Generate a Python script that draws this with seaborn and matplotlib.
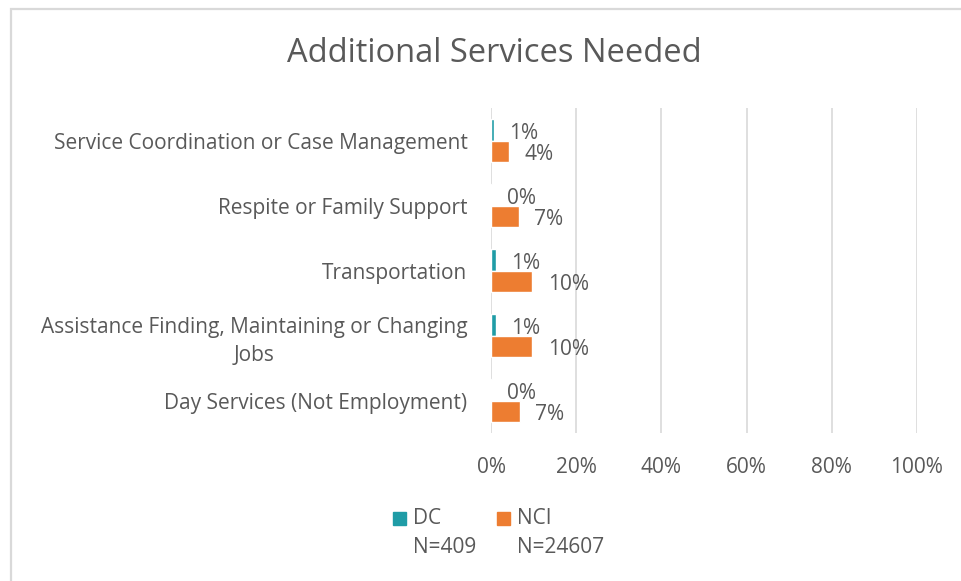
import matplotlib
matplotlib.use("Agg")
import matplotlib.pyplot as plt
from matplotlib.patches import Rectangle
from matplotlib.ticker import FuncFormatter
import pandas as pd
import seaborn as sns

# Survey data: share of respondents needing each additional service (%)
services = [
    "Service Coordination or Case Management",
    "Respite or Family Support",
    "Transportation",
    "Assistance Finding, Maintaining or Changing\nJobs",
    "Day Services (Not Employment)",
]
dc_values = [0.6, 0.2, 1.2, 1.2, 0.2]
nci_values = [4.2, 6.6, 9.7, 9.7, 6.7]
groups = ["DC", "NCI"]
group_sizes = ["N=409", "N=24607"]
x_ticks = [0, 20, 40, 60, 80, 100]

palette = {"DC": "#1F9CA6", "NCI": "#ED7D31"}
text_color = "#595959"
grid_color = "#D9D9D9"
fs = 15

df = pd.DataFrame({
    "service": services * 2,
    "group": [groups[0]] * len(services) + [groups[1]] * len(services),
    "value": dc_values + nci_values,
})

sns.set_theme(style="white")
plt.rcParams["font.family"] = ["Open Sans", "DejaVu Sans"]

fig = plt.figure(figsize=(9.62, 5.81), dpi=100)
ax = fig.add_axes([0.5104, 0.2547, 0.9532 - 0.5104, 0.8141 - 0.2547])

sns.barplot(data=df, y="service", x="value", hue="group", palette=palette,
            orient="h", width=0.65, ax=ax, legend=False, saturation=1)

ax.set_xlim(0, 100)
ax.set_xticks(x_ticks)
ax.xaxis.set_major_formatter(FuncFormatter(lambda v, p: f"{v:.0f}%"))
ax.grid(axis="x", color=grid_color, linewidth=1.2)
ax.grid(axis="y", visible=False)
ax.set_axisbelow(True)
for s in ax.spines.values():
    s.set_visible(False)
ax.set_xlabel("")
ax.set_ylabel("")
ax.tick_params(axis="x", length=0, pad=17, labelsize=fs, labelcolor=text_color)
ax.tick_params(axis="y", length=0, pad=17, labelsize=fs, labelcolor=text_color)
for lbl in ax.get_yticklabels():
    lbl.set_multialignment("center")
    lbl.set_linespacing(1.45)

for cont in ax.containers:
    anns = ax.bar_label(cont, labels=[f"{v:.0f}%" for v in cont.datavalues],
                        padding=10, fontsize=fs, color=text_color)
    for a in anns:
        a.xyann = (11, -2.5)

fig.text(0.514, 0.908, "Additional Services Needed", ha="center", va="center",
         fontsize=23.5, color=text_color)

# Legend: colour square with group name, sample size beneath
legend_x = [0.4085, 0.5165]
for gx, g, n in zip(legend_x, groups, group_sizes):
    fig.patches.append(Rectangle((gx, 0.097), 0.0135, 0.0225,
                                 transform=fig.transFigure, color=palette[g]))
    fig.text(gx + 0.021, 0.108, g, ha="left", va="center", fontsize=fs,
             color=text_color)
    fig.text(gx + 0.021, 0.057, n, ha="left", va="center", fontsize=fs,
             color=text_color)

# Chart area border
fig.patches.append(Rectangle((0.011, -0.05), 1.2, 0.035 + 0.999, fill=False,
                             transform=fig.transFigure, edgecolor=grid_color,
                             linewidth=1.6))

fig.savefig("out.png", dpi=100)
